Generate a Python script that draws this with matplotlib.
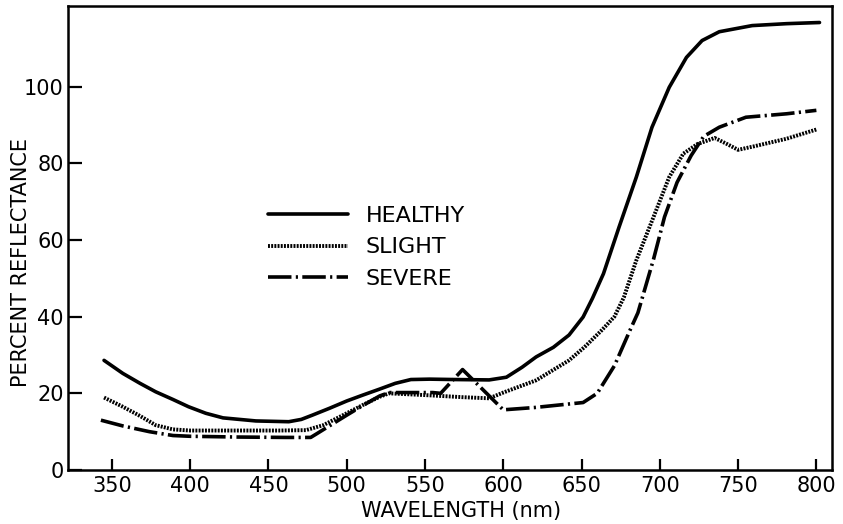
import matplotlib
matplotlib.use("Agg")
import matplotlib.pyplot as plt

# ---- data ----
healthy_x = [345, 357, 368, 378, 389, 399, 410, 421, 442, 463, 471, 478, 489, 500,
             510, 521, 531, 541, 553, 568, 591, 602, 612, 621, 632, 642, 651, 657,
             664, 674, 685, 695, 706, 717, 727, 738, 759, 781, 802]
healthy_y = [28.6, 25.2, 22.6, 20.4, 18.4, 16.5, 14.8, 13.6, 12.8, 12.6, 13.2, 14.3,
             16.1, 18.0, 19.5, 21.1, 22.6, 23.6, 23.7, 23.6, 23.5, 24.2, 26.8, 29.5,
             32.0, 35.2, 39.9, 44.8, 51.2, 63.4, 76.4, 89.4, 99.8, 107.6, 112.0,
             114.3, 115.9, 116.4, 116.7]

slight_x = [345, 357, 368, 378, 389, 400, 431, 457, 474, 485, 500, 510, 521, 527,
            552, 574, 591, 600, 621, 642, 652, 663, 671, 677, 685, 696, 706, 715,
            724, 735, 743, 750, 760, 781, 800]
slight_y = [18.9, 16.5, 14.1, 11.7, 10.6, 10.3, 10.3, 10.3, 10.4, 11.7, 14.8, 16.9,
            19.1, 20.0, 19.5, 19.0, 18.7, 20.2, 23.4, 28.6, 32.1, 36.5, 40.0, 45.0,
            54.7, 66.0, 76.4, 82.5, 85.0, 86.6, 85.0, 83.5, 84.4, 86.4, 88.8]

severe_x = [343, 357, 374, 389, 400, 431, 461, 477, 481, 500, 511, 521, 527, 542,
            555, 560, 574, 600, 620, 651, 660, 671, 681, 686, 691, 696, 703, 711,
            720, 728, 738, 755, 781, 800]
severe_y = [13.0, 11.5, 10.0, 9.0, 8.8, 8.6, 8.5, 8.5, 9.5, 14.3, 17.0, 19.3, 20.2,
            20.2, 20.2, 20.0, 26.2, 15.7, 16.3, 17.6, 20.0, 27.2, 36.5, 41.0, 48.0,
            55.0, 66.0, 75.0, 82.0, 87.0, 89.4, 92.0, 92.9, 93.8]

labels = ["HEALTHY", "SLIGHT", "SEVERE"]
x_ticks = [350, 400, 450, 500, 550, 600, 650, 700, 750, 800]
y_ticks = [0, 20, 40, 60, 80, 100]

plt.rcParams['font.family'] = ['DejaVu Sans']

fig = plt.figure(figsize=(8.43, 5.24), dpi=100)
ax = fig.add_axes([0.0807, 0.103, 0.9063, 0.8855])

ax.plot(healthy_x, healthy_y, color='black', lw=2.6, solid_capstyle='round',
        solid_joinstyle='round', label=labels[0])
ax.plot(slight_x, slight_y, color='black', lw=2.8, linestyle=(0, (0.5, 0.32)),
        dash_capstyle='butt', label=labels[1])
ax.plot(severe_x, severe_y, color='black', lw=2.6,
        linestyle=(0, (6.5, 1.2, 0.6, 1.2)), dash_capstyle='butt', label=labels[2])

ax.set_xlim(322, 810)
ax.set_ylim(0, 121)
ax.set_xticks(x_ticks)
ax.set_yticks(y_ticks)
ax.tick_params(direction='in', length=8, width=1.6, labelsize=15)
ax.tick_params(axis='x', pad=4)
ax.tick_params(axis='y', length=10, pad=3)
for s in ax.spines.values():
    s.set_linewidth(1.8)

ax.set_xlabel("WAVELENGTH (nm)", fontsize=15)
ax.set_ylabel("PERCENT REFLECTANCE", fontsize=15)
ax.xaxis.set_label_coords(0.514, -0.066)
ax.yaxis.set_label_coords(-0.048, 0.448)

ax.legend(loc='upper left', bbox_to_anchor=(0.262, 0.570), frameon=False,
          fontsize=16, handlelength=3.6, handletextpad=0.8, labelspacing=0.53,
          borderpad=0, borderaxespad=0)

fig.savefig("out.png", dpi=100)
